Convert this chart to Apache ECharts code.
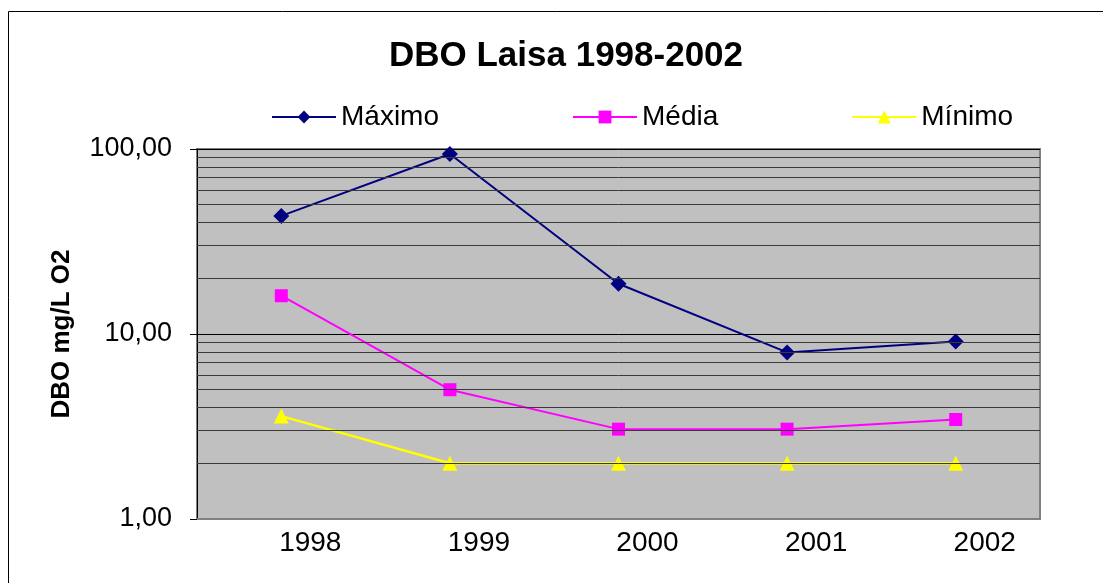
<!DOCTYPE html>
<html>
<head>
<meta charset="utf-8">
<script src="https://cdn.jsdelivr.net/npm/echarts@6/dist/echarts.min.js"></script>
<style>
  html, body { margin: 0; padding: 0; background: #fff; }
  #chart { width: 1103px; height: 583px; }
</style>
</head>
<body>
<div id="chart"></div>
<script>
const years = ["1998", "1999", "2000", "2001", "2002"];
const maximo = [43.5, 94, 18.7, 7.95, 9.1];
const media = [16.1, 5.0, 3.06, 3.06, 3.45];
const minimo = [3.6, 2.0, 2.0, 2.0, 2.0];
// linhas de grade secundárias do eixo log
const minorGrid = [2, 3, 4, 5, 6, 7, 8, 9, 20, 30, 40, 50, 60, 70, 80, 90];

const chart = echarts.init(document.getElementById("chart"));
const font = "Liberation Sans, Arial, sans-serif";

const option = {
  backgroundColor: "#fff",
  animation: false,
  graphic: [
    {
      type: "rect",
      shape: { x: 8.5, y: 11.5, width: 1200, height: 700 },
      style: { fill: "none", stroke: "#000", lineWidth: 1 },
      silent: true,
    },
  ],
  title: {
    text: "DBO Laisa 1998-2002",
    left: 561,
    top: 34,
    textAlign: "center",
    textStyle: { fontFamily: font, fontSize: 35, fontWeight: "bold", color: "#000" },
  },
  legend: {
    data: ["Máximo", "Média", "Mínimo"],
    left: 266,
    top: 98,
    itemWidth: 64,
    itemHeight: 16,
    itemGap: 133,
    textStyle: { fontFamily: font, fontSize: 28, color: "#000" },
  },
  grid: {
    left: 197,
    right: 63,
    top: 149,
    bottom: 64,
    show: true,
    backgroundColor: "#C0C0C0",
    borderColor: "#808080",
    borderWidth: 2,
  },
  xAxis: {
    type: "category",
    data: years,
    boundaryGap: true,
    axisLine: { lineStyle: { color: "#808080", width: 2 } },
    axisTick: { show: false },
    axisLabel: {
      fontFamily: font,
      fontSize: 28,
      color: "#000",
      margin: 10,
      padding: [0, 0, 0, 58],
    },
  },
  yAxis: {
    type: "log",
    logBase: 10,
    min: 1,
    max: 100,
    name: "DBO mg/L O2",
    nameLocation: "middle",
    nameGap: 122,
    nameTextStyle: { fontFamily: font, fontSize: 26, fontWeight: "bold", color: "#000" },
    axisLine: { show: true, lineStyle: { color: "#000", width: 1 } },
    axisTick: { show: true, length: 7, lineStyle: { color: "#000" } },
    axisLabel: {
      fontFamily: font,
      fontSize: 27,
      color: "#000",
      margin: 25,
      formatter: (v) => v.toFixed(2).replace(".", ","),
    },
    splitLine: { show: true, lineStyle: { color: "#000", width: 1 } },
  },
  series: [
    {
      name: "grade",
      type: "line",
      data: [],
      z: 1,
      silent: true,
      markLine: {
        silent: true,
        symbol: "none",
        label: { show: false },
        lineStyle: { color: "#3a3a3a", width: 1, type: "solid" },
        data: minorGrid.map((v) => ({ yAxis: v })),
      },
    },
    {
      name: "Máximo",
      type: "line",
      data: maximo,
      symbol: "diamond",
      symbolSize: 16,
      color: "#000080",
      lineStyle: { color: "#000080", width: 2 },
      itemStyle: { color: "#000080" },
    },
    {
      name: "Média",
      type: "line",
      data: media,
      symbol: "rect",
      symbolSize: 13,
      color: "#FF00FF",
      lineStyle: { color: "#FF00FF", width: 2 },
      itemStyle: { color: "#FF00FF" },
    },
    {
      name: "Mínimo",
      type: "line",
      data: minimo,
      symbol: "triangle",
      symbolSize: 15,
      color: "#FFFF00",
      lineStyle: { color: "#FFFF00", width: 2.5 },
      itemStyle: { color: "#FFFF00" },
    },
  ],
};

chart.setOption(option);
</script>
</body>
</html>
